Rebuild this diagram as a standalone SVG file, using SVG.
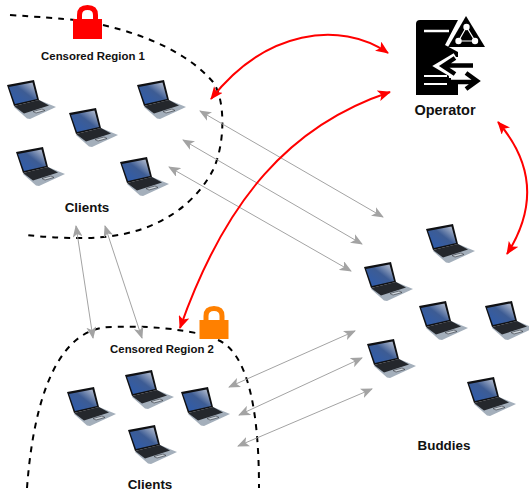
<svg xmlns="http://www.w3.org/2000/svg" width="529" height="494" viewBox="0 0 529 494">
<style>
text{font-family:"Liberation Sans",Arial,sans-serif;font-weight:bold;fill:#111;text-anchor:middle}
.s{font-size:11.400px}.m{font-size:13.400px}.o{font-size:14.500px}
.d{fill:none;stroke:#000;stroke-width:2;stroke-dasharray:6 6}
.g{fill:none;stroke:#a3a3a3;stroke-width:1;marker-start:url(#ga);marker-end:url(#ga)}
.r{fill:none;stroke:#f00;stroke-width:2;marker-start:url(#ra);marker-end:url(#ra)}
</style>
<defs>
<marker id="ga" markerUnits="userSpaceOnUse" viewBox="0 0 12 10" refX="11" refY="5" markerWidth="12" markerHeight="10" orient="auto-start-reverse"><path d="M0 0L12 5L0 10L3 5Z" fill="#a3a3a3"/></marker>
<marker id="ra" markerUnits="userSpaceOnUse" viewBox="0 0 13 11" refX="12" refY="5.5" markerWidth="13" markerHeight="11" orient="auto-start-reverse"><path d="M0 0L13 5.5L0 11L3 5.5Z" fill="#f00"/></marker>
<linearGradient id="sc" x1="0" y1="1" x2="1" y2="0"><stop offset="0" stop-color="#2c5cb0"/><stop offset=".55" stop-color="#3d5c94"/><stop offset="1" stop-color="#c8cdd8"/></linearGradient>
<g id="laptop">
<path d="M7 27L32 20L49 27L23 39L20 38.500Z" fill="#a4afbb"/>
<path d="M7 26L32 20L42 25.500L17 33.500Z" fill="#24272c"/>
<path d="M26 31.500L35 29L38 30.500L29 33Z" fill="#cfd6dd" stroke="#30343a" stroke-width=".6"/>
<path d="M0 5L27 0L32 20L7 26Z" fill="#0f1013"/>
<path d="M2 7L25.500 2.500L30 19L8 24Z" fill="url(#sc)"/>
</g>
<path id="shackle" d="M-8 2V-4Q-8 -11.500 0 -11.500Q8 -11.500 8 -4V2" fill="none" stroke-width="5"/>
</defs>
<g id="connectors">
<path class="d" d="M10 15Q55 18 75 20M103 25C150 36 190 55 213 82C226 100 225 145 213 170C200 195 165 238 83 238Q50 238 27 235"/>
<path class="d" d="M27 488C32 420 50 327 112 327C140 326 165 327 196 333M218 340C245 352 259 400 259 488"/>
<path class="g" d="M200 111L383 217"/>
<path class="g" d="M183 140L362 244"/>
<path class="g" d="M169 167L351 271"/>
<path class="g" d="M355 331L229 387"/>
<path class="g" d="M362 358L239 415"/>
<path class="g" d="M372 389L238 446"/>
<path class="g" d="M76 226L93 338"/>
<path class="g" d="M105 226L142 338"/>
<path class="r" d="M388 53C340 20 265 30 211 99"/>
<path class="r" d="M390 92C290 125 225 200 180 328"/>
<path class="r" d="M498 122C535 165 535 210 507 254"/>
</g>
<g id="lock1"><use href="#shackle" x="87.500" y="19" stroke="#f00"/><rect x="73" y="19" width="29" height="20" fill="#f00"/></g>
<g id="lock2"><use href="#shackle" x="214" y="320" stroke="#ff8000"/><rect x="199.500" y="320" width="29" height="19" fill="#ff8000"/></g>
<g id="region1-label"><text class="s" x="93" y="60">Censored Region 1</text></g>
<g id="region2-label"><text class="s" x="162" y="353">Censored Region 2</text></g>
<g id="clients1"><text class="m" x="87" y="212">Clients</text>
<use href="#laptop" x="7" y="80"/><use href="#laptop" x="69" y="108"/><use href="#laptop" x="137" y="80"/><use href="#laptop" x="16" y="147"/><use href="#laptop" x="120" y="157"/></g>
<g id="clients2"><text class="m" x="150" y="489">Clients</text>
<use href="#laptop" x="67" y="387"/><use href="#laptop" x="125" y="370"/><use href="#laptop" x="181" y="387"/><use href="#laptop" x="128" y="425"/></g>
<g id="buddies"><text class="m" x="444" y="450">Buddies</text>
<use href="#laptop" x="426" y="224"/><use href="#laptop" x="364" y="262"/><use href="#laptop" x="419" y="301"/><use href="#laptop" x="485" y="301"/><use href="#laptop" x="367" y="339"/><use href="#laptop" x="467" y="377"/></g>
<g id="operator">
<path d="M416 24Q416 20 420 20H458L445 45L458 52V95H416Z" fill="#000"/>
<path d="M448 57H460V78H449Z" fill="#fff"/>
<path d="M424 31H449" stroke="#fff" stroke-width="2.500"/>
<path d="M424 76H447M424 84H447" stroke="#fff" stroke-width="2"/>
<path d="M456 57L441 66L456 75" fill="none" stroke="#fff" stroke-width="9"/>
<path d="M451 80H462M466 72L477 80.500L466 89" fill="none" stroke="#fff" stroke-width="8"/>
<path d="M466 16L485 47H448Z" fill="#000"/>
<g fill="#fff"><circle cx="466.500" cy="27" r="3.200"/><circle cx="458.500" cy="41" r="3.200"/><circle cx="475" cy="41" r="3.200"/></g>
<path d="M466.500 27L458.500 41H475Z" fill="none" stroke="#fff" stroke-width="1.200"/>
<path d="M455 58L443 66L455 74M445 65.500H473" fill="none" stroke="#000" stroke-width="4.500"/>
<path d="M451 82H475M466 73L477 81L466 89" fill="none" stroke="#000" stroke-width="4.500"/>
<text class="o" x="445" y="115">Operator</text>
</g>
</svg>
